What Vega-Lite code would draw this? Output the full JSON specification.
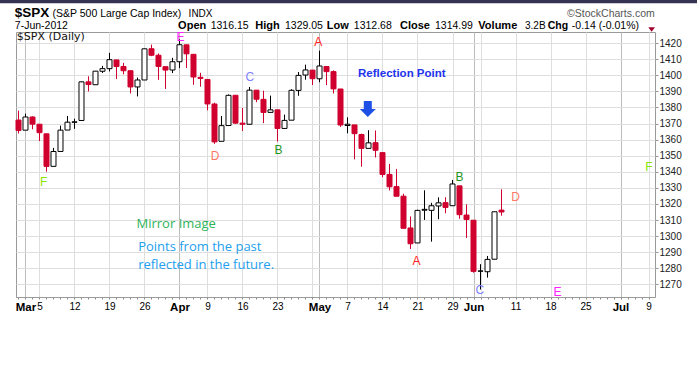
{
  "$schema": "https://vega.github.io/schema/vega-lite/v6.json",
  "width": 639,
  "height": 265,
  "autosize": {"type": "none"},
  "padding": {"left": 16, "top": 32, "right": 42, "bottom": 83},
  "background": "#ffffff",
  "config": {
    "view": {"stroke": "#9a9a9a", "fill": "#ffffff"},
    "font": "Liberation Sans"
  },
  "resolve": {"axis": {"x": "independent", "y": "independent"}},
  "datasets": {
    "candles": [
      {"d": "2012-02-29", "i": -1, "o": 1372.20, "h": 1378.04, "l": 1363.81, "c": 1365.68},
      {"d": "2012-03-01", "i": 0, "o": 1365.90, "h": 1376.17, "l": 1365.90, "c": 1374.09},
      {"d": "2012-03-02", "i": 1, "o": 1374.09, "h": 1374.53, "l": 1366.42, "c": 1369.63},
      {"d": "2012-03-05", "i": 2, "o": 1369.59, "h": 1369.59, "l": 1359.13, "c": 1364.33},
      {"d": "2012-03-06", "i": 3, "o": 1363.63, "h": 1363.63, "l": 1340.03, "c": 1343.36},
      {"d": "2012-03-07", "i": 4, "o": 1343.39, "h": 1354.85, "l": 1343.39, "c": 1352.63},
      {"d": "2012-03-08", "i": 5, "o": 1352.65, "h": 1368.72, "l": 1352.65, "c": 1365.91},
      {"d": "2012-03-09", "i": 6, "o": 1365.97, "h": 1374.76, "l": 1365.97, "c": 1370.87},
      {"d": "2012-03-12", "i": 7, "o": 1370.78, "h": 1373.04, "l": 1366.69, "c": 1371.09},
      {"d": "2012-03-13", "i": 8, "o": 1371.92, "h": 1396.13, "l": 1371.92, "c": 1395.95},
      {"d": "2012-03-14", "i": 9, "o": 1395.95, "h": 1399.42, "l": 1389.97, "c": 1394.28},
      {"d": "2012-03-15", "i": 10, "o": 1394.17, "h": 1402.63, "l": 1394.17, "c": 1402.60},
      {"d": "2012-03-16", "i": 11, "o": 1402.55, "h": 1405.88, "l": 1401.47, "c": 1404.17},
      {"d": "2012-03-19", "i": 12, "o": 1404.17, "h": 1414.00, "l": 1402.43, "c": 1409.75},
      {"d": "2012-03-20", "i": 13, "o": 1409.59, "h": 1409.59, "l": 1397.68, "c": 1405.52},
      {"d": "2012-03-21", "i": 14, "o": 1405.52, "h": 1407.75, "l": 1400.64, "c": 1402.89},
      {"d": "2012-03-22", "i": 15, "o": 1402.89, "h": 1402.89, "l": 1388.73, "c": 1392.78},
      {"d": "2012-03-23", "i": 16, "o": 1392.78, "h": 1398.64, "l": 1386.88, "c": 1397.11},
      {"d": "2012-03-26", "i": 17, "o": 1397.11, "h": 1416.58, "l": 1397.11, "c": 1416.51},
      {"d": "2012-03-27", "i": 18, "o": 1416.55, "h": 1419.15, "l": 1411.95, "c": 1412.52},
      {"d": "2012-03-28", "i": 19, "o": 1412.52, "h": 1413.65, "l": 1397.20, "c": 1405.54},
      {"d": "2012-03-29", "i": 20, "o": 1405.39, "h": 1405.39, "l": 1391.56, "c": 1403.28},
      {"d": "2012-03-30", "i": 21, "o": 1403.31, "h": 1410.89, "l": 1401.42, "c": 1408.47},
      {"d": "2012-04-02", "i": 22, "o": 1408.47, "h": 1422.38, "l": 1404.46, "c": 1419.04},
      {"d": "2012-04-03", "i": 23, "o": 1418.98, "h": 1419.00, "l": 1404.62, "c": 1413.38},
      {"d": "2012-04-04", "i": 24, "o": 1413.09, "h": 1413.09, "l": 1394.09, "c": 1398.96},
      {"d": "2012-04-05", "i": 25, "o": 1398.79, "h": 1401.60, "l": 1392.92, "c": 1398.08},
      {"d": "2012-04-09", "i": 26, "o": 1397.45, "h": 1397.45, "l": 1378.24, "c": 1382.20},
      {"d": "2012-04-10", "i": 27, "o": 1382.18, "h": 1383.01, "l": 1357.38, "c": 1358.59},
      {"d": "2012-04-11", "i": 28, "o": 1358.98, "h": 1374.71, "l": 1358.98, "c": 1368.71},
      {"d": "2012-04-12", "i": 29, "o": 1368.77, "h": 1388.13, "l": 1368.77, "c": 1387.57},
      {"d": "2012-04-13", "i": 30, "o": 1387.61, "h": 1387.61, "l": 1369.85, "c": 1370.26},
      {"d": "2012-04-16", "i": 31, "o": 1370.27, "h": 1379.66, "l": 1365.38, "c": 1369.57},
      {"d": "2012-04-17", "i": 32, "o": 1369.57, "h": 1392.76, "l": 1369.57, "c": 1390.78},
      {"d": "2012-04-18", "i": 33, "o": 1390.78, "h": 1390.78, "l": 1383.29, "c": 1385.14},
      {"d": "2012-04-19", "i": 34, "o": 1385.08, "h": 1390.46, "l": 1370.30, "c": 1376.92},
      {"d": "2012-04-20", "i": 35, "o": 1376.96, "h": 1387.40, "l": 1376.96, "c": 1378.53},
      {"d": "2012-04-23", "i": 36, "o": 1378.53, "h": 1378.53, "l": 1358.79, "c": 1366.94},
      {"d": "2012-04-24", "i": 37, "o": 1366.97, "h": 1375.57, "l": 1366.82, "c": 1371.97},
      {"d": "2012-04-25", "i": 38, "o": 1372.11, "h": 1391.37, "l": 1372.11, "c": 1390.69},
      {"d": "2012-04-26", "i": 39, "o": 1390.64, "h": 1402.09, "l": 1387.28, "c": 1399.98},
      {"d": "2012-04-27", "i": 40, "o": 1400.19, "h": 1406.64, "l": 1397.31, "c": 1403.36},
      {"d": "2012-04-30", "i": 41, "o": 1403.26, "h": 1403.26, "l": 1394.00, "c": 1397.91},
      {"d": "2012-05-01", "i": 42, "o": 1397.86, "h": 1415.32, "l": 1395.73, "c": 1405.82},
      {"d": "2012-05-02", "i": 43, "o": 1405.50, "h": 1405.50, "l": 1393.92, "c": 1402.31},
      {"d": "2012-05-03", "i": 44, "o": 1402.32, "h": 1403.07, "l": 1388.71, "c": 1391.57},
      {"d": "2012-05-04", "i": 45, "o": 1391.51, "h": 1391.51, "l": 1367.96, "c": 1369.10},
      {"d": "2012-05-07", "i": 46, "o": 1368.79, "h": 1373.91, "l": 1363.94, "c": 1369.58},
      {"d": "2012-05-08", "i": 47, "o": 1369.16, "h": 1369.16, "l": 1347.75, "c": 1363.72},
      {"d": "2012-05-09", "i": 48, "o": 1363.20, "h": 1363.73, "l": 1343.13, "c": 1354.58},
      {"d": "2012-05-10", "i": 49, "o": 1354.58, "h": 1365.88, "l": 1354.58, "c": 1357.99},
      {"d": "2012-05-11", "i": 50, "o": 1358.11, "h": 1365.66, "l": 1348.89, "c": 1353.39},
      {"d": "2012-05-14", "i": 51, "o": 1351.93, "h": 1351.93, "l": 1336.61, "c": 1338.35},
      {"d": "2012-05-15", "i": 52, "o": 1338.36, "h": 1344.94, "l": 1328.41, "c": 1330.66},
      {"d": "2012-05-16", "i": 53, "o": 1330.78, "h": 1341.78, "l": 1324.79, "c": 1324.80},
      {"d": "2012-05-17", "i": 54, "o": 1324.82, "h": 1326.36, "l": 1304.86, "c": 1304.86},
      {"d": "2012-05-18", "i": 55, "o": 1305.05, "h": 1312.24, "l": 1291.98, "c": 1295.22},
      {"d": "2012-05-21", "i": 56, "o": 1295.73, "h": 1316.39, "l": 1295.73, "c": 1315.99},
      {"d": "2012-05-22", "i": 57, "o": 1316.09, "h": 1328.49, "l": 1310.04, "c": 1316.63},
      {"d": "2012-05-23", "i": 58, "o": 1316.02, "h": 1320.71, "l": 1296.53, "c": 1318.86},
      {"d": "2012-05-24", "i": 59, "o": 1318.72, "h": 1324.14, "l": 1310.50, "c": 1320.68},
      {"d": "2012-05-25", "i": 60, "o": 1320.81, "h": 1324.20, "l": 1314.23, "c": 1317.82},
      {"d": "2012-05-29", "i": 61, "o": 1318.90, "h": 1334.93, "l": 1318.90, "c": 1332.42},
      {"d": "2012-05-30", "i": 62, "o": 1331.25, "h": 1331.25, "l": 1310.76, "c": 1313.32},
      {"d": "2012-05-31", "i": 63, "o": 1313.09, "h": 1319.74, "l": 1298.90, "c": 1310.33},
      {"d": "2012-06-01", "i": 64, "o": 1309.87, "h": 1309.87, "l": 1277.25, "c": 1278.04},
      {"d": "2012-06-04", "i": 65, "o": 1278.29, "h": 1282.55, "l": 1266.74, "c": 1278.18},
      {"d": "2012-06-05", "i": 66, "o": 1277.82, "h": 1287.62, "l": 1274.16, "c": 1285.50},
      {"d": "2012-06-06", "i": 67, "o": 1285.61, "h": 1315.13, "l": 1285.61, "c": 1315.13},
      {"d": "2012-06-07", "i": 68, "o": 1316.15, "h": 1329.05, "l": 1312.68, "c": 1314.99}
    ],
    "letters": [
      {"t": "F", "i": 2.59, "p": 1333.5},
      {"t": "E", "i": 22.14, "p": 1423.7},
      {"t": "D", "i": 27.09, "p": 1349.65},
      {"t": "C", "i": 32.04, "p": 1398.9},
      {"t": "B", "i": 36.14, "p": 1353.6},
      {"t": "A", "i": 41.83, "p": 1421.0},
      {"t": "A", "i": 55.86, "p": 1284.5},
      {"t": "B", "i": 62.0, "p": 1336.9},
      {"t": "C", "i": 64.9, "p": 1266.45},
      {"t": "D", "i": 70.0, "p": 1324.5},
      {"t": "E", "i": 76.0, "p": 1265.1},
      {"t": "F", "i": 89.07, "p": 1343.1}
    ],
    "one": [{}]
  },
  "layer": [
    {
      "data": {"name": "candles"},
      "transform": [
        {"window": [{"op": "lag", "field": "c", "as": "pc"}], "sort": [{"field": "i", "order": "ascending"}]}
      ],
      "mark": {"type": "rule", "strokeWidth": 1},
      "encoding": {
        "x": {
          "field": "i",
          "type": "quantitative",
          "scale": {"domain": [-1.35714, 89.92857], "nice": false, "zero": false, "padding": 0},
          "axis": {
            "title": null,
            "orient": "bottom",
            "values": [-1,0,1,2,3,4,5,6,7,8,9,10,11,12,13,14,15,16,17,18,19,20,21,22,23,24,25,26,27,28,29,30,31,32,33,34,35,36,37,38,39,40,41,42,43,44,45,46,47,48,49,50,51,52,53,54,55,56,57,58,59,60,61,62,63,64,65,66,67,68,69,70,71,72,73,74,75,76,77,78,79,80,81,82,83,84,85,86,87,88,89],
            "labelExpr": "datum.value == 0 ? 'Mar' : datum.value == 2 ? '5' : datum.value == 7 ? '12' : datum.value == 12 ? '19' : datum.value == 17 ? '26' : datum.value == 22 ? 'Apr' : datum.value == 26 ? '9' : datum.value == 31 ? '16' : datum.value == 36 ? '23' : datum.value == 42 ? 'May' : datum.value == 46 ? '7' : datum.value == 51 ? '14' : datum.value == 56 ? '21' : datum.value == 61 ? '29' : datum.value == 64 ? 'Jun' : datum.value == 70 ? '11' : datum.value == 75 ? '18' : datum.value == 80 ? '25' : datum.value == 85 ? 'Jul' : datum.value == 89 ? '9' : ''",
            "labelOverlap": false,
            "labelFlush": false,
            "labelBound": false,
            "labelFont": "Liberation Sans",
            "labelColor": "#000000",
            "labelFontWeight": {"condition": {"test": "datum.value == 0 || datum.value == 22 || datum.value == 42 || datum.value == 64 || datum.value == 85", "value": "bold"}, "value": "normal"},
            "labelFontSize": {"condition": {"test": "datum.value == 0 || datum.value == 22 || datum.value == 42 || datum.value == 64 || datum.value == 85", "value": 11.5}, "value": 10},
            "labelPadding": 2,
            "tickSize": 2,
            "tickColor": "#8a8a8a",
            "domain": true,
            "domainColor": "#9a9a9a",
            "grid": true,
            "gridColor": {"condition": {"test": "datum.value == 0 || datum.value == 22 || datum.value == 42 || datum.value == 64 || datum.value == 85", "value": "#bcbcbc"}, "value": "#dedede"},
            "gridOpacity": {"condition": {"test": "datum.value == 0 || datum.value == 2 || datum.value == 7 || datum.value == 12 || datum.value == 17 || datum.value == 22 || datum.value == 26 || datum.value == 31 || datum.value == 36 || datum.value == 41 || datum.value == 42 || datum.value == 46 || datum.value == 51 || datum.value == 56 || datum.value == 61 || datum.value == 64 || datum.value == 65 || datum.value == 70 || datum.value == 75 || datum.value == 80 || datum.value == 85 || datum.value == 89", "value": 1}, "value": 0}
          }
        },
        "y": {
          "field": "l",
          "type": "quantitative",
          "scale": {"domain": [1262.1, 1426.97], "nice": false, "zero": false},
          "axis": {
            "title": null,
            "orient": "right",
            "values": [1270,1280,1290,1300,1310,1320,1330,1340,1350,1360,1370,1380,1390,1400,1410,1420],
            "format": "d",
            "labelOverlap": false,
            "labelFont": "Liberation Sans",
            "labelFontSize": 10,
            "labelColor": "#222222",
            "labelPadding": 1,
            "tickSize": 3,
            "tickColor": "#9a9a9a",
            "domain": false,
            "grid": true,
            "gridColor": "#dedede"
          }
        },
        "y2": {"field": "h"},
        "color": {"condition": {"test": "datum.pc == null ? datum.c < datum.o : datum.c < datum.pc", "value": "#d0002f"}, "value": "#000000"}
      }
    },
    {
      "data": {"name": "candles"},
      "transform": [
        {"window": [{"op": "lag", "field": "c", "as": "pc"}], "sort": [{"field": "i", "order": "ascending"}]}
      ],
      "mark": {"type": "bar", "size": 5, "strokeWidth": 1},
      "encoding": {
        "x": {"field": "i", "type": "quantitative", "axis": null},
        "y": {"field": "o", "type": "quantitative", "axis": null},
        "y2": {"field": "c"},
        "fill": {"condition": [{"test": "datum.c > datum.o", "value": "#ffffff"}, {"test": "datum.pc == null ? datum.c < datum.o : datum.c < datum.pc", "value": "#d0002f"}], "value": "#000000"},
        "stroke": {"condition": {"test": "datum.pc == null ? datum.c < datum.o : datum.c < datum.pc", "value": "#d0002f"}, "value": "#000000"}
      }
    },
    {
      "data": {"name": "letters"},
      "mark": {"type": "text", "font": "Liberation Sans", "fontSize": 12, "align": "center", "baseline": "middle"},
      "encoding": {
        "x": {"field": "i", "type": "quantitative", "axis": null},
        "y": {"field": "p", "type": "quantitative", "axis": null},
        "text": {"field": "t"},
        "color": {"field": "t", "type": "nominal", "legend": null, "scale": {"domain": ["A","B","C","D","E","F"], "range": ["#ff1c1c","#1f951f","#7f7fff","#ff7866","#ff22ff","#88e600"]}}
      }
    },
    {
      "data": {"name": "one"},
      "mark": {"type": "rect", "color": "#343452"},
      "encoding": {
        "x": {"datum": -3.7, "axis": null},
        "x2": {"datum": 96},
        "y": {"datum": 1444.86, "axis": null},
        "y2": {"datum": 1446.95}
      }
    },
    {
      "data": {"name": "one"},
      "mark": {"type": "text", "text": "Reflection Point", "font": "Liberation Sans", "fontSize": 11.5, "fontWeight": "bold", "color": "#2233ee", "align": "left", "baseline": "alphabetic"},
      "encoding": {"x": {"datum": 47.51, "axis": null}, "y": {"datum": 1399.2, "axis": null}}
    },
    {
      "data": {"name": "one"},
      "mark": {"type": "point", "shape": "M-0.5,-1L0.5,-1L0.5,0L1,0L0,1L-1,0L-0.5,0Z", "size": 256, "filled": true, "opacity": 1, "color": "#1e50e6", "strokeWidth": 0},
      "encoding": {"x": {"datum": 48.9, "axis": null}, "y": {"datum": 1379.1, "axis": null}}
    },
    {
      "data": {"name": "one"},
      "mark": {"type": "text", "text": "Mirror Image", "font": "Open Sans", "fontSize": 13, "color": "#2db35a", "align": "left", "baseline": "alphabetic"},
      "encoding": {"x": {"datum": 15.86, "axis": null}, "y": {"datum": 1304.85, "axis": null}}
    },
    {
      "data": {"name": "one"},
      "mark": {"type": "text", "text": ["Points from the past", "reflected in the future."], "lineHeight": 18, "font": "Open Sans", "fontSize": 13, "color": "#22a0ee", "align": "left", "baseline": "alphabetic"},
      "encoding": {"x": {"datum": 16.09, "axis": null}, "y": {"datum": 1290.7, "axis": null}}
    },
    {
      "data": {"name": "one"},
      "mark": {"type": "text", "text": "$SPX (Daily)", "font": "DejaVu Sans", "fontSize": 11, "color": "#111111", "align": "left", "baseline": "alphabetic"},
      "encoding": {"x": {"datum": -1.24, "axis": null}, "y": {"datum": 1421.7, "axis": null}}
    },
    {
      "data": {"name": "one"},
      "mark": {"type": "text", "text": "$SPX", "font": "Liberation Sans", "fontSize": 13.5, "fontWeight": "bold", "color": "#000000", "align": "left", "baseline": "alphabetic"},
      "encoding": {"x": {"datum": -1.53, "axis": null}, "y": {"datum": 1436.5, "axis": null}}
    },
    {
      "data": {"name": "one"},
      "mark": {"type": "text", "text": "(S&P 500 Large Cap Index)", "font": "Liberation Sans", "fontSize": 10.5, "color": "#000000", "align": "left", "baseline": "alphabetic"},
      "encoding": {"x": {"datum": 3.86, "axis": null}, "y": {"datum": 1436.5, "axis": null}}
    },
    {
      "data": {"name": "one"},
      "mark": {"type": "text", "text": "INDX", "font": "Liberation Sans", "fontSize": 10, "color": "#000000", "align": "left", "baseline": "alphabetic"},
      "encoding": {"x": {"datum": 23.3, "axis": null}, "y": {"datum": 1436.5, "axis": null}}
    },
    {
      "data": {"name": "one"},
      "mark": {"type": "text", "text": "©StockCharts.com", "font": "Liberation Sans", "fontSize": 10.5, "color": "#555555", "align": "right", "baseline": "alphabetic"},
      "encoding": {"x": {"datum": 89.9, "axis": null}, "y": {"datum": 1436.5, "axis": null}}
    },
    {
      "data": {"name": "one"},
      "mark": {"type": "text", "text": "7-Jun-2012", "font": "Liberation Sans", "fontSize": 10.5, "color": "#000000", "align": "left", "baseline": "alphabetic"},
      "encoding": {"x": {"datum": -1.53, "axis": null}, "y": {"datum": 1428.9, "axis": null}}
    },
    {
      "data": {"name": "one"},
      "mark": {"type": "text", "text": "Open", "font": "Liberation Sans", "fontSize": 11, "fontWeight": "bold", "color": "#000000", "align": "left", "baseline": "alphabetic"},
      "encoding": {"x": {"datum": 21.8, "axis": null}, "y": {"datum": 1428.9, "axis": null}}
    },
    {
      "data": {"name": "one"},
      "mark": {"type": "text", "text": "1316.15", "font": "Liberation Sans", "fontSize": 10.5, "color": "#000000", "align": "left", "baseline": "alphabetic"},
      "encoding": {"x": {"datum": 26.45, "axis": null}, "y": {"datum": 1428.9, "axis": null}}
    },
    {
      "data": {"name": "one"},
      "mark": {"type": "text", "text": "High", "font": "Liberation Sans", "fontSize": 11, "fontWeight": "bold", "color": "#000000", "align": "left", "baseline": "alphabetic"},
      "encoding": {"x": {"datum": 32.83, "axis": null}, "y": {"datum": 1428.9, "axis": null}}
    },
    {
      "data": {"name": "one"},
      "mark": {"type": "text", "text": "1329.05", "font": "Liberation Sans", "fontSize": 10.5, "color": "#000000", "align": "left", "baseline": "alphabetic"},
      "encoding": {"x": {"datum": 37.07, "axis": null}, "y": {"datum": 1428.9, "axis": null}}
    },
    {
      "data": {"name": "one"},
      "mark": {"type": "text", "text": "Low", "font": "Liberation Sans", "fontSize": 11, "fontWeight": "bold", "color": "#000000", "align": "left", "baseline": "alphabetic"},
      "encoding": {"x": {"datum": 43.03, "axis": null}, "y": {"datum": 1428.9, "axis": null}}
    },
    {
      "data": {"name": "one"},
      "mark": {"type": "text", "text": "1312.68", "font": "Liberation Sans", "fontSize": 10.5, "color": "#000000", "align": "left", "baseline": "alphabetic"},
      "encoding": {"x": {"datum": 46.9, "axis": null}, "y": {"datum": 1428.9, "axis": null}}
    },
    {
      "data": {"name": "one"},
      "mark": {"type": "text", "text": "Close", "font": "Liberation Sans", "fontSize": 11, "fontWeight": "bold", "color": "#000000", "align": "left", "baseline": "alphabetic"},
      "encoding": {"x": {"datum": 53.5, "axis": null}, "y": {"datum": 1428.9, "axis": null}}
    },
    {
      "data": {"name": "one"},
      "mark": {"type": "text", "text": "1314.99", "font": "Liberation Sans", "fontSize": 10.5, "color": "#000000", "align": "left", "baseline": "alphabetic"},
      "encoding": {"x": {"datum": 58.5, "axis": null}, "y": {"datum": 1428.9, "axis": null}}
    },
    {
      "data": {"name": "one"},
      "mark": {"type": "text", "text": "Volume", "font": "Liberation Sans", "fontSize": 11, "fontWeight": "bold", "color": "#000000", "align": "left", "baseline": "alphabetic"},
      "encoding": {"x": {"datum": 64.69, "axis": null}, "y": {"datum": 1428.9, "axis": null}}
    },
    {
      "data": {"name": "one"},
      "mark": {"type": "text", "text": "3.2B", "font": "Liberation Sans", "fontSize": 10, "color": "#000000", "align": "left", "baseline": "alphabetic"},
      "encoding": {"x": {"datum": 71.36, "axis": null}, "y": {"datum": 1428.9, "axis": null}}
    },
    {
      "data": {"name": "one"},
      "mark": {"type": "text", "text": "Chg", "font": "Liberation Sans", "fontSize": 10.5, "fontWeight": "bold", "color": "#000000", "align": "left", "baseline": "alphabetic"},
      "encoding": {"x": {"datum": 74.6, "axis": null}, "y": {"datum": 1428.9, "axis": null}}
    },
    {
      "data": {"name": "one"},
      "mark": {"type": "text", "text": "-0.14 (-0.01%)", "font": "Liberation Sans", "fontSize": 10.5, "color": "#000000", "align": "left", "baseline": "alphabetic"},
      "encoding": {"x": {"datum": 78.05, "axis": null}, "y": {"datum": 1428.9, "axis": null}}
    },
    {
      "data": {"name": "one"},
      "mark": {"type": "point", "shape": "M-1,-0.65L1,-0.65L0,0.65Z", "size": 45, "filled": true, "opacity": 1, "color": "#a3002b", "strokeWidth": 0},
      "encoding": {"x": {"datum": 89.45, "axis": null}, "y": {"datum": 1428.55, "axis": null}}
    }
  ]
}
